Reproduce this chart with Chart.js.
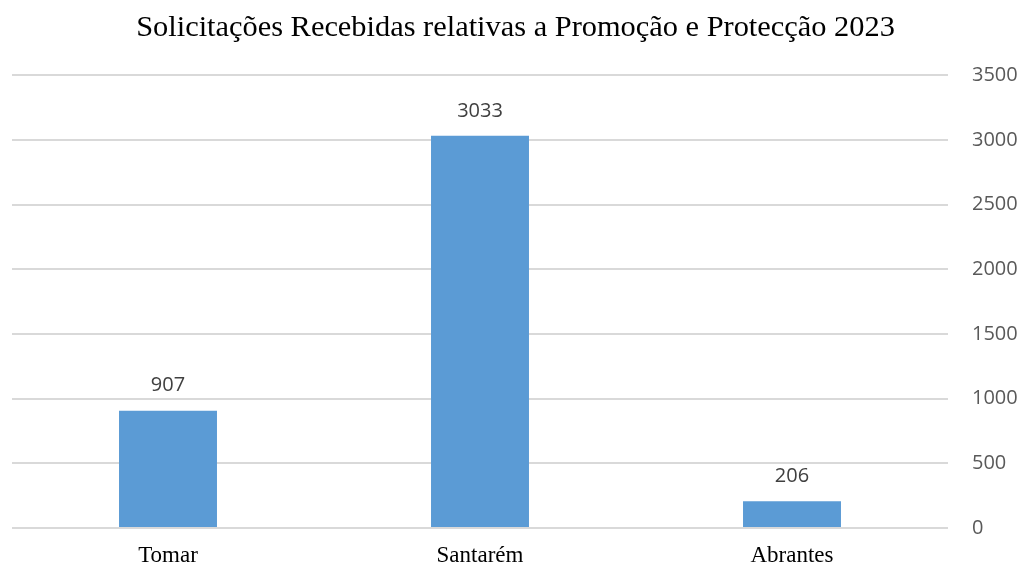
<!DOCTYPE html>
<html>
<head>
<meta charset="utf-8">
<script src="https://cdn.jsdelivr.net/npm/chart.js@4/dist/chart.umd.min.js"></script>
<style>
  html, body { margin: 0; padding: 0; background: #fff; }
  #wrap { width: 1025px; height: 566px; }
</style>
</head>
<body>
<div id="wrap"><canvas id="chart"></canvas></div>
<script>
let cities = ['Tomar', 'Santarém', 'Abrantes'];
let requests = [907, 3033, 206];
let yTicks = [0, 500, 1000, 1500, 2000, 2500, 3000, 3500];

// draws the value above each bar
const barValues = {
    id: 'barValues',
    afterDatasetsDraw(chart) {
        const ctx = chart.ctx;
        const meta = chart.getDatasetMeta(0);
        ctx.save();
        ctx.font = '20px "Open Sans", sans-serif';
        ctx.fillStyle = '#404040';
        ctx.textAlign = 'center';
        ctx.textBaseline = 'middle';
        meta.data.forEach((bar, i) => {
            ctx.fillText(requests[i], bar.x, bar.y - 25);
        });
        ctx.restore();
    }
};

new Chart(document.getElementById('chart'), {
    type: 'bar',
    data: {
        labels: cities,
        datasets: [{
            data: requests,
            backgroundColor: '#5B9BD5',
            borderWidth: 0,
            barPercentage: 0.314,
            categoryPercentage: 1
        }]
    },
    options: {
        responsive: true,
        maintainAspectRatio: false,
        animation: false,
        layout: { padding: { left: 12, right: 6, top: 0, bottom: -17 } },
        plugins: {
            legend: { display: false },
            tooltip: { enabled: false },
            title: {
                display: true,
                text: 'Solicitações Recebidas relativas a Promoção e Protecção 2023',
                color: '#000',
                font: { family: '"Liberation Serif", serif', size: 30.4, weight: 'normal', lineHeight: 1.2 },
                padding: { top: 10, bottom: 29 }
            }
        },
        scales: {
            x: {
                grid: { display: false, drawTicks: false },
                border: { display: false },
                ticks: {
                    color: '#000',
                    padding: 16,
                    font: { family: '"Liberation Serif", serif', size: 23, lineHeight: 1 }
                }
            },
            y: {
                position: 'right',
                min: 0,
                max: 3500,
                afterBuildTicks: axis => { axis.ticks = yTicks.map(v => ({ value: v })); },
                afterFit: axis => { axis.width = 71; },
                grid: { color: '#d9d9d9', lineWidth: 2, drawTicks: false },
                border: { display: false },
                ticks: {
                    color: '#595959',
                    padding: 24,
                    callback: v => String(v),
                    font: { family: '"Open Sans", sans-serif', size: 20 }
                }
            }
        }
    },
    plugins: [barValues]
});
</script>
</body>
</html>
